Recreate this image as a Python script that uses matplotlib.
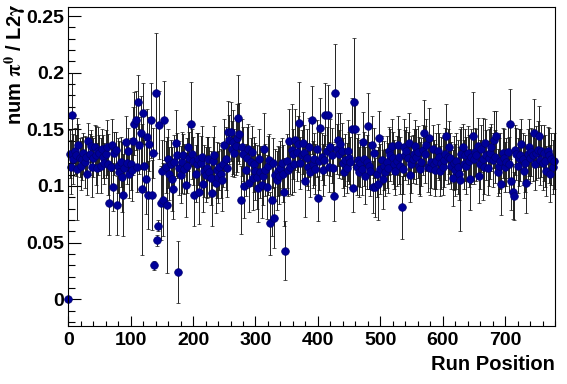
import matplotlib
matplotlib.use("Agg")
import matplotlib.pyplot as plt
import numpy as np
from matplotlib.ticker import MultipleLocator, FuncFormatter

# num pi0 / L2gamma, in units of 1e-3, one entry per 2 run positions (0, 2, 4, ... 778)
ratio_milli = [
    0, 128, 117, 163, 124, 131, 127, 115, 136, 125,
    118, 124, 129, 121, 126, 111, 140, 128, 135, 117,
    125, 134, 127, 116, 131, 129, 118, 133, 126, 120,
    128, 134, 119, 85, 117, 136, 99, 129, 132, 83,
    118, 112, 121, 108, 92, 116, 139, 120, 131, 111,
    119, 114, 140, 155, 158, 117, 174, 136, 147, 97,
    164, 118, 106, 143, 92, 137, 158, 92, 129, 30,
    182, 52, 65, 154, 85, 113, 88, 158, 117, 83,
    124, 111, 119, 106, 97, 121, 138, 127, 24, 116,
    110, 121, 127, 115, 101, 118, 134, 125, 155, 128,
    122, 92, 111, 119, 124, 95, 120, 126, 102, 113,
    110, 116, 124, 112, 107, 94, 122, 127, 103, 114,
    108, 117, 111, 105, 119, 136, 124, 116, 148, 141,
    148, 133, 139, 129, 135, 142, 160, 146, 88, 134,
    128, 100, 114, 125, 133, 103, 121, 130, 107, 119,
    113, 108, 98, 124, 112, 101, 109, 133, 114, 99,
    118, 123, 67, 88, 120, 72, 110, 105, 113, 109,
    116, 120, 111, 95, 43, 122, 114, 140, 117, 132,
    128, 119, 141, 130, 137, 156, 120, 127, 138, 129,
    104, 125, 117, 134, 112, 158, 119, 124, 115, 133,
    89, 122, 151, 126, 114, 123, 163, 131, 163, 117,
    134, 127, 116, 91, 182, 133, 141, 128, 137, 131,
    120, 112, 123, 116, 131, 125, 121, 150, 98, 174,
    150, 117, 123, 112, 120, 115, 139, 124, 109, 121,
    153, 118, 113, 136, 99, 129, 99, 111, 102, 142,
    115, 123, 106, 118, 112, 121, 116, 131, 127, 135,
    125, 119, 113, 122, 136, 126, 118, 81, 115, 134,
    127, 131, 125, 138, 110, 119, 124, 128, 135, 126,
    130, 118, 115, 121, 132, 147, 128, 136, 117, 142,
    116, 121, 133, 119, 114, 122, 131, 126, 113, 120,
    117, 123, 128, 144, 126, 134, 125, 118, 107, 120,
    114, 122, 117, 111, 105, 128, 134, 119, 127, 118,
    129, 122, 106, 126, 144, 124, 130, 127, 135, 109,
    119, 133, 124, 117, 138, 127, 116, 125, 129, 134,
    123, 141, 126, 144, 112, 118, 122, 102, 129, 125,
    117, 121, 130, 119, 155, 104, 95, 91, 132, 128,
    118, 125, 127, 137, 124, 113, 120, 103, 128, 134,
    125, 130, 127, 147, 119, 129, 132, 144, 123, 131,
    120, 129, 122, 113, 131, 127, 111, 124, 117, 122,
]

# statistical error, in units of 1e-3
error_milli = [
    0, 21, 24, 37, 22, 20, 18, 45, 19, 17,
    22, 19, 18, 23, 17, 19, 16, 18, 14, 27,
    17, 20, 26, 22, 21, 16, 24, 17, 19, 18,
    21, 24, 27, 28, 17, 23, 21, 19, 16, 26,
    24, 28, 22, 31, 36, 25, 23, 18, 20, 22,
    23, 27, 30, 28, 26, 22, 24, 25, 32, 58,
    27, 23, 31, 25, 30, 24, 33, 31, 22, 4,
    53, 5, 5, 30, 33, 28, 32, 35, 23, 60,
    26, 23, 22, 28, 26, 24, 29, 20, 27, 24,
    25, 27, 19, 22, 28, 24, 21, 23, 37, 22,
    21, 27, 25, 28, 23, 29, 24, 27, 25, 23,
    24, 27, 19, 22, 24, 29, 21, 26, 27, 25,
    23, 21, 22, 27, 20, 23, 28, 26, 27, 22,
    26, 24, 28, 21, 25, 30, 38, 27, 30, 25,
    24, 28, 23, 27, 22, 26, 21, 23, 28, 24,
    25, 28, 30, 26, 23, 29, 26, 31, 23, 28,
    26, 23, 28, 32, 22, 27, 23, 26, 22, 25,
    24, 22, 25, 30, 26, 24, 23, 28, 24, 40,
    22, 24, 27, 26, 25, 36, 23, 22, 27, 25,
    31, 25, 21, 26, 22, 30, 21, 23, 22, 25,
    20, 26, 27, 21, 23, 22, 28, 21, 26, 22,
    25, 24, 21, 22, 43, 22, 23, 21, 27, 25,
    22, 21, 23, 22, 27, 23, 22, 28, 21, 57,
    24, 25, 23, 22, 21, 23, 26, 24, 25, 24,
    29, 21, 22, 26, 23, 22, 26, 21, 32, 24,
    22, 21, 26, 22, 21, 23, 22, 21, 23, 24,
    23, 22, 21, 22, 26, 24, 25, 28, 22, 25,
    22, 21, 23, 26, 24, 25, 21, 22, 23, 24,
    23, 25, 24, 21, 22, 29, 25, 23, 22, 27,
    24, 23, 21, 22, 23, 25, 24, 21, 22, 23,
    25, 24, 23, 28, 24, 23, 22, 21, 25, 24,
    23, 25, 24, 23, 45, 24, 21, 22, 23, 25,
    24, 23, 27, 24, 39, 22, 21, 23, 25, 24,
    22, 21, 36, 24, 21, 22, 24, 25, 23, 21,
    24, 25, 23, 22, 21, 24, 25, 28, 22, 25,
    22, 21, 23, 24, 31, 25, 24, 21, 22, 23,
    24, 25, 23, 22, 23, 24, 25, 27, 22, 25,
    22, 21, 23, 30, 23, 24, 25, 27, 22, 23,
    24, 25, 23, 22, 21, 24, 25, 23, 24, 25,
]

ratio = np.array(ratio_milli) / 1000.0
error = np.array(error_milli) / 1000.0
run_position = np.arange(len(ratio)) * 2

x_ticks = [0, 100, 200, 300, 400, 500, 600, 700]
y_ticks = [0, 0.05, 0.1, 0.15, 0.2, 0.25]

plt.rcParams["font.family"] = ["Liberation Sans", "DejaVu Sans"]
plt.rcParams["font.weight"] = "bold"
plt.rcParams["mathtext.fontset"] = "stix"

fig = plt.figure(figsize=(5.67, 3.84), dpi=100)
ax = fig.add_axes([68.3 / 567, 1 - 326 / 384, (555 - 68.3) / 567, (326 - 7.3) / 384])
ax.set_xlim(0, 780)
ax.set_ylim(-0.0236, 0.2577)

# one point at a time, like ROOT: bar then marker, so later bars cross earlier markers
for x, y, e in zip(run_position, ratio, error):
    ax.errorbar(
        [x], [y], yerr=[e],
        fmt="o", ms=5.5, mfc="#000099", mec="#00006e", mew=0.5,
        ecolor="#111111", elinewidth=0.65, capsize=1.3, capthick=0.65,
        clip_on=False,
    )

ax.set_xticks(x_ticks)
ax.set_yticks(y_ticks)
ax.xaxis.set_minor_locator(MultipleLocator(20))
ax.yaxis.set_minor_locator(MultipleLocator(0.01))
ax.yaxis.set_major_formatter(FuncFormatter(lambda v, p: "%g" % round(v, 3)))

ax.tick_params(axis="both", which="both", direction="in", top=False, right=False,
               labelsize=14, width=0.8, colors="black")
ax.tick_params(axis="x", which="major", length=7.2, pad=4)
ax.tick_params(axis="x", which="minor", length=3.6)
ax.tick_params(axis="y", which="major", length=9.4, pad=3)
ax.tick_params(axis="y", which="minor", length=5)
for lbl in ax.get_xticklabels() + ax.get_yticklabels():
    lbl.set_fontweight("bold")
for sp in ax.spines.values():
    sp.set_linewidth(0.8)

ax.set_xlabel("Run Position", fontsize=14.5, fontweight="bold", loc="right", labelpad=5)
ax.set_ylabel(r"num $\mathrm{\pi}^{0}$ / L2$\mathrm{\gamma}$", fontsize=14.5,
              fontweight="bold", loc="top")
ax.yaxis.set_label_coords(-0.083, 1.013)

fig.savefig("out.png", dpi=100)
